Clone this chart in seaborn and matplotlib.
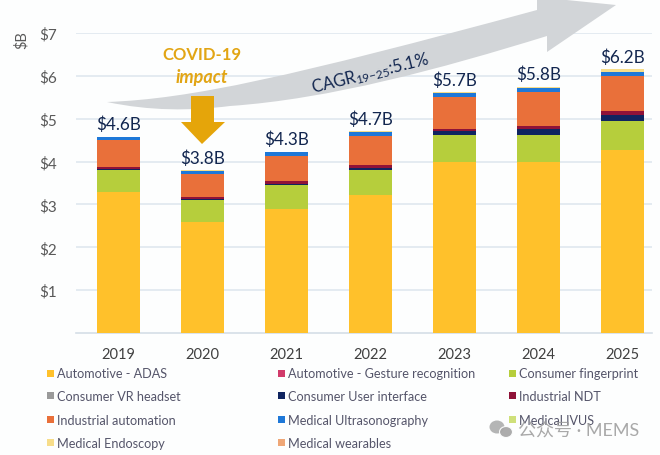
from matplotlib import pyplot as plt
from matplotlib.patches import Ellipse, Polygon, Rectangle, PathPatch
from matplotlib.path import Path
import numpy as np
import pandas as pd
import seaborn as sns

years = ['2019', '2020', '2021', '2022', '2023', '2024', '2025']
total_labels = ['$4.6B', '$3.8B', '$4.3B', '$4.7B', '$5.7B', '$5.8B', '$6.2B']

adas = [3.30, 2.59, 2.90, 3.22, 3.98, 3.99, 4.28]
fingerprint = [0.50, 0.51, 0.55, 0.59, 0.64, 0.64, 0.67]
user_interface = [0.02, 0.02, 0.02, 0.03, 0.10, 0.13, 0.13]
ndt = [0.06, 0.06, 0.07, 0.09, 0.04, 0.06, 0.09]
automation = [0.62, 0.52, 0.58, 0.67, 0.74, 0.80, 0.82]
ultrasonography = [0.07, 0.09, 0.10, 0.10, 0.10, 0.10, 0.11]
endoscopy = [0.01, 0.01, 0.01, 0.01, 0.02, 0.03, 0.05]

y_ticks = [1, 2, 3, 4, 5, 6, 7]

COLORS = {
    'Automotive - ADAS': '#FFC12B',
    'Automotive - Gesture recognition': '#D13B6B',
    'Consumer fingerprint': '#B6CE3C',
    'Consumer VR headset': '#9A9A9A',
    'Consumer User interface': '#0F2460',
    'Industrial NDT': '#8F1238',
    'Industrial automation': '#E9703A',
    'Medical Ultrasonography': '#1E78D8',
    'Medical IVUS': '#CFE07A',
    'Medical Endoscopy': '#F7DD8A',
    'Medical wearables': '#EFA777',
}

stack = {
    'Automotive - ADAS': adas,
    'Consumer fingerprint': fingerprint,
    'Consumer User interface': user_interface,
    'Industrial NDT': ndt,
    'Industrial automation': automation,
    'Medical Ultrasonography': ultrasonography,
    'Medical Endoscopy': endoscopy,
}

sns.set_style('white')
plt.rcParams['font.family'] = ['Lato', 'Noto Sans CJK SC', 'DejaVu Sans']
plt.rcParams['mathtext.default'] = 'regular'

W, H = 660, 456
BG = '#FDFEFE'
fig = plt.figure(figsize=(W / 100, H / 100), dpi=100, facecolor=BG)
ax = fig.add_axes([76 / W, 1 - 334 / H, 576 / W, 300 / H], facecolor=BG)

df = pd.DataFrame(stack, index=years)
bottom = np.zeros(len(years))
for name in df.columns:
    sns.barplot(x=years, y=df[name].values, color=COLORS[name], width=0.51, saturation=1,
                bottom=bottom, ax=ax, zorder=3, linewidth=0)
    bottom = bottom + df[name].values

for i, label in enumerate(total_labels):
    ax.annotate(label, (i, bottom[i]), xytext=(0, 9), textcoords='offset points', ha='center', va='center',
                fontsize=12.3, color='#12264F', zorder=5)

ax.set_xlim(-0.506, 6.35)
ax.set_ylim(0, 7)
ax.set_yticks(y_ticks)
ax.set_yticklabels([f'${v}' for v in y_ticks], fontsize=11, color='#595959')
ax.tick_params(axis='y', length=0, pad=13.7)
ax.tick_params(axis='x', length=0, pad=10, labelsize=10.5, labelcolor='#404040')
ax.grid(axis='y', color='#DFE8EF', linewidth=1.2, zorder=0)
ax.grid(axis='x', visible=False)
ax.set_axisbelow(True)
for side in ('top', 'right', 'left'):
    ax.spines[side].set_visible(False)
ax.spines['bottom'].set_color('#D5DEE6')
ax.spines['bottom'].set_linewidth(1.2)

# overlay in picture pixels, for the annotations and the hand placed legend
over = fig.add_axes([0, 0, 1, 1], facecolor='none')
over.set_xlim(0, W)
over.set_ylim(H, 0)
over.axis('off')

# grey CAGR arrow
verts = [(107, 103), (190, 100), (290, 78), (537, 11), (537, -2), (616, 6), (547, 53), (547, 37),
         (440, 70), (330, 100), (230, 107), (190, 112), (150, 112), (107, 103)]
codes = [Path.MOVETO, Path.CURVE4, Path.CURVE4, Path.CURVE4, Path.LINETO, Path.LINETO, Path.LINETO, Path.LINETO,
         Path.CURVE4, Path.CURVE4, Path.CURVE4, Path.CURVE4, Path.CURVE4, Path.CURVE4]
over.add_patch(PathPatch(Path(verts, codes), facecolor='#D2D5D8', edgecolor='none', zorder=1))
over.text(370, 74, 'CAGR$_{19{-}25}$:5.1%', rotation=14, ha='center', va='center', fontsize=12,
          color='#12264F', rotation_mode='anchor', zorder=2)

# COVID arrow
over.add_patch(Polygon([(191, 97), (214, 97), (214, 123), (225, 123), (202, 145), (181, 123), (191, 123)],
                       facecolor='#E5A50A', edgecolor='none', zorder=3))
over.text(202, 55, 'COVID-19', ha='center', va='center', fontsize=12, fontweight='bold', color='#E2A514')
over.text(202, 77, 'impact', ha='center', va='center', fontsize=13, fontweight='bold', style='italic',
          color='#E2A514')

over.text(22, 40, '$B', rotation=90, ha='center', va='center', fontsize=10.5, color='#595959')

# legend, filled row by row
legend_rows = [374, 397, 421, 444]
legend_cols = [50, 281, 512]
for i, (name, color) in enumerate(COLORS.items()):
    x, y = legend_cols[i % 3], legend_rows[i // 3]
    over.add_patch(Rectangle((x - 3.5, y - 3.5), 7, 7, facecolor=color, edgecolor='none'))
    over.text(x + 7, y, name, ha='left', va='center', fontsize=9.1, color='#55556A')

# watermark
over.add_patch(Ellipse((497, 428), 15, 13, facecolor='#A8A8A8', edgecolor='none', alpha=0.85))
over.add_patch(Ellipse((506, 433), 13, 11, facecolor='#A8A8A8', edgecolor='#FDFEFE', linewidth=0.8, alpha=0.95))
over.text(518, 430, '公众号 · MEMS', ha='left', va='center', fontsize=13, color='#9A9A9A', alpha=0.85)

fig.savefig('out.png', dpi=100, facecolor=BG)
